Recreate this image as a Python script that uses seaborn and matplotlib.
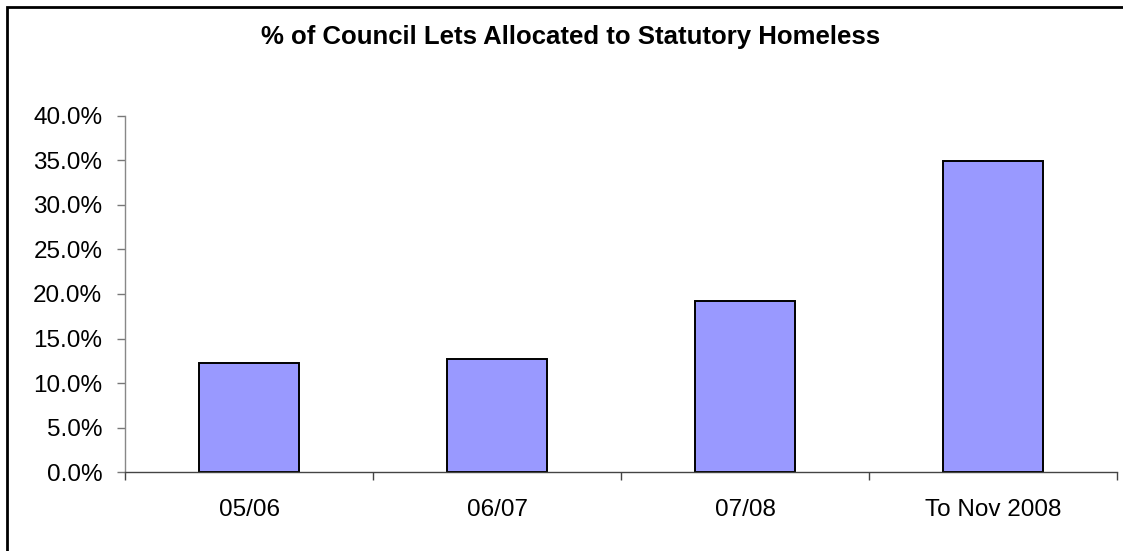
import matplotlib
matplotlib.use("Agg")
import matplotlib.pyplot as plt
from matplotlib.patches import Rectangle
from matplotlib.ticker import FuncFormatter, MultipleLocator
import seaborn as sns
import pandas as pd

# Share of council lettings that went to statutorily homeless households
periods = ["05/06", "06/07", "07/08", "To Nov 2008"]
share_pct = [12.3, 12.7, 19.25, 34.9]
title_text = "% of Council Lets Allocated to Statutory Homeless"

df = pd.DataFrame({"period": periods, "share": share_pct})

sns.set_style("white")
plt.rcParams["font.family"] = ["Liberation Sans", "DejaVu Sans"]

W, H = 1123, 551
fig = plt.figure(figsize=(W / 100, H / 100), dpi=100)
ax = fig.add_axes([125 / W, 1 - 472.3 / H, (1117 - 125) / W, (472.3 - 115.7) / H])

sns.barplot(data=df, x="period", y="share", ax=ax, color="#9999FF",
            saturation=1, width=0.405, edgecolor="black", linewidth=1.4)

ax.set_ylim(0, 40)
ax.set_xlim(-0.5, len(periods) - 0.5)
ax.yaxis.set_major_locator(MultipleLocator(5))
ax.yaxis.set_major_formatter(FuncFormatter(lambda v, _: f"{v:.1f}%"))
ax.set_xlabel("")
ax.set_ylabel("")

# Category ticks sit between the bars
ax.set_xticks([i - 0.5 for i in range(len(periods) + 1)], minor=False)
ax.set_xticklabels([])
ax.set_xticks(range(len(periods)), minor=True)
ax.set_xticklabels(periods, minor=True)
ax.tick_params(axis="x", which="major", direction="out", length=5.8, width=1, color="#444444")
ax.tick_params(axis="x", which="minor", length=0, pad=19, labelsize=17.5, labelcolor="black")
ax.tick_params(axis="y", direction="out", length=5.8, width=1, color="#777777",
               pad=10.5, labelsize=17.5, labelcolor="black")
ax.tick_params(left=True, bottom=True)
ax.tick_params(axis="x", which="minor", bottom=True, length=0)

for side in ("top", "right"):
    ax.spines[side].set_visible(False)
ax.spines["left"].set_color("#888888")
ax.spines["left"].set_linewidth(1)
ax.spines["bottom"].set_color("#444444")
ax.spines["bottom"].set_linewidth(1)

fig.text(571 / W, 1 - 37 / H, title_text, ha="center", va="center",
         fontsize=18.5, fontweight="bold", color="black")

# Chart area frame
fig.patches.append(Rectangle((7 / W, -0.2), 1.2, 1.2 - 7 / H,
                             transform=fig.transFigure, fill=False,
                             edgecolor="black", linewidth=2, zorder=10))

fig.savefig("out.png", dpi=100)
